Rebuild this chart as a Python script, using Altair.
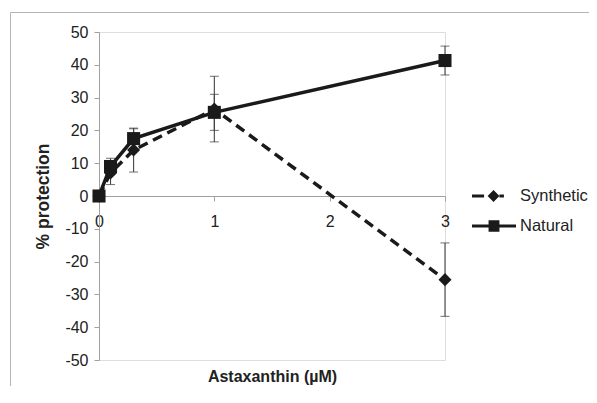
import altair as alt
import pandas as pd

# ---- data ----
doses = [0, 0.1, 0.3, 1, 3]
synthetic = [0, 7, 14, 26.5, -25.5]
synthetic_err = [0.5, 3.5, 6.7, 10, 11.2]
natural = [0, 9, 17.5, 25.5, 41.3]
natural_err = [0.5, 2.5, 3, 5.5, 4.4]
series_names = ["Synthetic", "Natural"]
x_ticks = [0, 1, 2, 3]
y_ticks = [-50, -40, -30, -20, -10, 0, 10, 20, 30, 40, 50]

rows = []
for name, vals, errs in [("Synthetic", synthetic, synthetic_err), ("Natural", natural, natural_err)]:
    for d, v, e in zip(doses, vals, errs):
        rows.append({"dose": d, "value": v, "lo": v - e, "hi": v + e, "series": name})
df = pd.DataFrame(rows)

FONT = "Liberation Sans"
TXT = "#222222"
AX = "#a0a0a0"
INK = "#1a1a1a"

xs = alt.Scale(domain=[0, 3], nice=False, zero=False)
ys = alt.Scale(domain=[-50, 50], nice=False)

x_axis = alt.Axis(values=x_ticks, offset=-164, tickSize=5, labelPadding=12,
                  labelFontSize=16, labelFont=FONT, labelColor=TXT, labelFlush=False,
                  labelAngle=0, labelOverlap=False,
                  domainColor=AX, tickColor=AX, grid=False,
                  titleFont=FONT, titleFontSize=16, titleFontWeight="bold", titleColor=TXT,
                  titleY=180, titleBaseline="middle")
y_axis = alt.Axis(values=y_ticks, tickSize=5, labelPadding=6,
                  labelExpr="'' + datum.value",
                  labelFontSize=16, labelFont=FONT, labelColor=TXT,
                  domainColor=AX, tickColor=AX, grid=False,
                  titleFont=FONT, titleFontSize=17.5, titleFontWeight="bold", titleColor=TXT,
                  titleX=-56, titleY=164, titleAngle=270, titleBaseline="middle",
                  titleAlign="center")

X = alt.X("dose:Q", scale=xs, axis=x_axis, title="Astaxanthin (µM)")
Y = alt.Y("value:Q", scale=ys, axis=y_axis, title="% protection")

base = alt.Chart(df)

err_rule = base.mark_rule(color="#444444", strokeWidth=1.1).encode(
    x=X, y=alt.Y("lo:Q", scale=ys, axis=y_axis, title="% protection"), y2="hi:Q")
err_lo = base.mark_tick(color="#444444", orient="horizontal", size=9, thickness=1.1).encode(
    x=X, y=alt.Y("lo:Q", scale=ys, axis=y_axis, title="% protection"))
err_hi = base.mark_tick(color="#444444", orient="horizontal", size=9, thickness=1.1).encode(
    x=X, y=alt.Y("hi:Q", scale=ys, axis=y_axis, title="% protection"))

syn = base.transform_filter(alt.datum.series == "Synthetic")
nat = base.transform_filter(alt.datum.series == "Natural")

syn_line = syn.mark_line(color=INK, strokeWidth=3.5, strokeDash=[10, 6]).encode(x=X, y=Y)
nat_line = nat.mark_line(color=INK, strokeWidth=3.5).encode(x=X, y=Y)
syn_pts = syn.mark_point(shape="diamond", filled=True, color=INK, size=170, opacity=1).encode(x=X, y=Y)
nat_pts = nat.mark_point(shape="square", filled=True, color=INK, size=170, opacity=1).encode(x=X, y=Y)

# legend symbols: line segment plus marker, as custom symbol paths
syn_path = ("M-1.375,-0.1 L-0.62,-0.1 L-0.62,0.1 L-1.375,0.1 Z "
            "M-0.4,0 L-0.03,-0.38 L0.34,0 L-0.03,0.38 Z "
            "M0.34,-0.1 L0.62,-0.1 L0.62,0.1 L0.34,0.1 Z")
nat_path = ("M-1.375,-0.1 L-0.34,-0.1 L-0.34,-0.36 L0.34,-0.36 L0.34,-0.1 L1.375,-0.1 "
            "L1.375,0.1 L0.34,0.1 L0.34,0.36 L-0.34,0.36 L-0.34,0.1 L-1.375,0.1 Z")

legend_layer = base.transform_filter("false").mark_point(
    filled=True, color=INK, size=1024, opacity=1, strokeWidth=0).encode(
    shape=alt.Shape("series:N",
                    scale=alt.Scale(domain=series_names, range=[syn_path, nat_path]),
                    legend=alt.Legend(title=None, orient="none", legendX=379, legendY=148,
                                      symbolSize=1024, symbolStrokeWidth=0,
                                      symbolFillColor=INK,
                                      labelFontSize=16.5, labelFont=FONT, labelColor=TXT,
                                      labelOffset=10, rowPadding=5, padding=0,
                                      labelLimit=0)))

# chart frame (left and top edges of the outer border, running off the page)
one = alt.Chart(pd.DataFrame({"k": [0]}))
frame_left = one.mark_rule(color="#b4b4b4", strokeWidth=1).encode(
    x=alt.value(-88.5), y=alt.value(-19.5), y2=alt.value(420))
frame_top = one.mark_rule(color="#b4b4b4", strokeWidth=1).encode(
    x=alt.value(-88.5), x2=alt.value(560), y=alt.value(-19.5))

chart = alt.layer(
    frame_left, frame_top,
    err_rule, err_lo, err_hi,
    syn_line, nat_line, syn_pts, nat_pts,
    legend_layer,
).properties(
    width=346, height=328,
    autosize=alt.AutoSizeParams(type="none"),
    padding={"left": 91, "top": 24, "right": 144, "bottom": 26},
).configure_view(stroke=None).configure(background="white")

chart.save("out.html", embed_options={"renderer": "svg", "actions": False})
